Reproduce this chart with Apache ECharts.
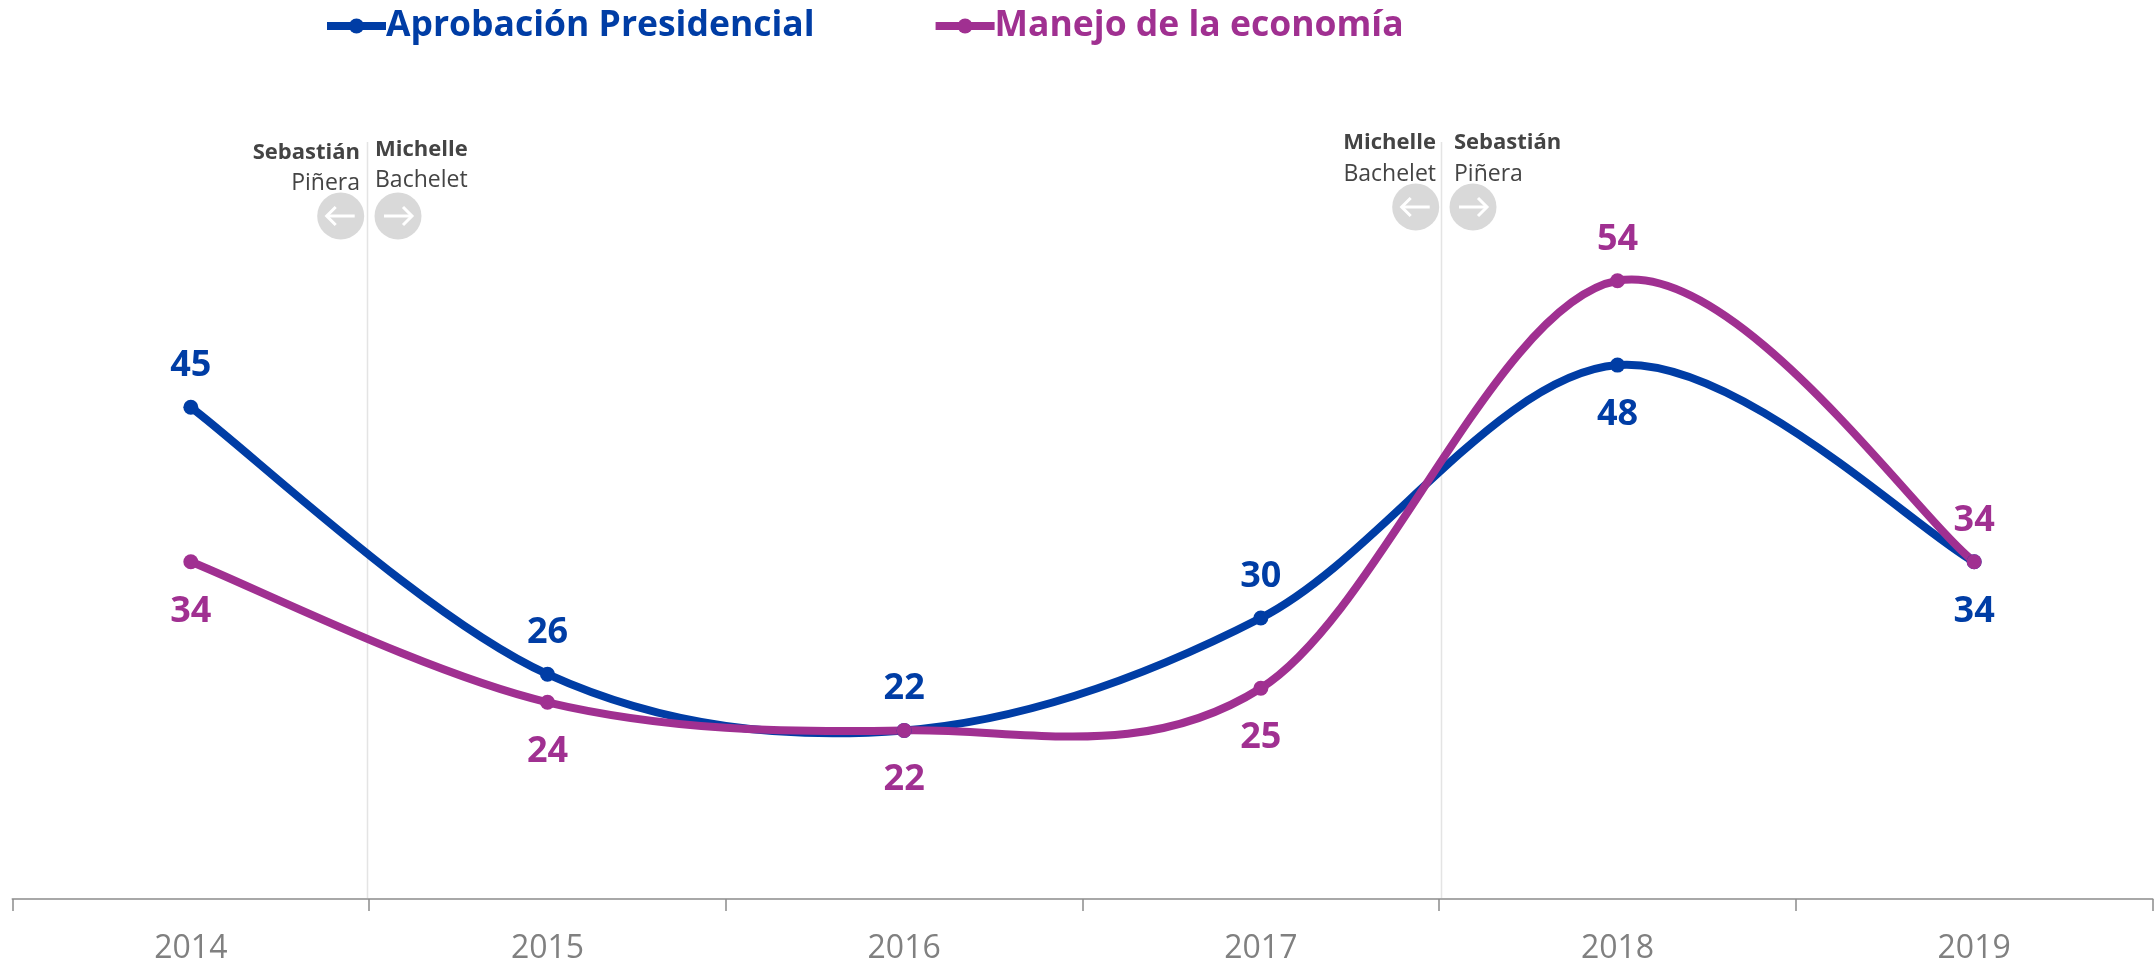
<!DOCTYPE html>
<html><head><meta charset="utf-8">
<style>html,body{margin:0;padding:0;background:#fff}#c{width:2156px;height:965px}</style>
<script src="https://cdn.jsdelivr.net/npm/echarts@6/dist/echarts.min.js"></script>
</head><body><div id="c"></div>
<script>
const years = ['2014','2015','2016','2017','2018','2019'];
const aprobacion = [45,26,22,30,48,34];
const economia = [34,24,22,25,54,34];
const aprobacionLabelPos = ['top','top','top','top','bottom','bottom'];
const economiaLabelPos = ['bottom','bottom','bottom','bottom','top','top'];
const BLUE='#003DA5', PURPLE='#A03091', FONT='"Open Sans", sans-serif';
const chart = echarts.init(document.getElementById('c'),null,{renderer:'canvas'});
function ser(name,vals,pos,color){
  return {name,type:'line',data:vals.map((v,i)=>({value:v,label:{position:pos[i],distance:pos[i]==='top'?16:24}})),
    symbol:'circle',symbolSize:15,z:4,
    lineStyle:{color,width:8,opacity:0},itemStyle:{color},
    label:{show:true,color,fontFamily:FONT,fontWeight:'bold',fontSize:36}};
}
function curve(vals,color,z){
  return {type:'custom',silent:true,z,clip:false,data:vals.map((v,i)=>[i,v]),
    renderItem(params,api){
      const i=params.dataIndex;
      if(i>=vals.length-1) return null;
      const p=k=>api.coord([Math.max(0,Math.min(vals.length-1,k)),vals[Math.max(0,Math.min(vals.length-1,k))]]);
      const a=p(i-1),b=p(i),c=p(i+1),d=p(i+2);
      return {type:'bezierCurve',shape:{x1:b[0],y1:b[1],x2:c[0],y2:c[1],
        cpx1:b[0]+(c[0]-a[0])/6,cpy1:b[1]+(c[1]-a[1])/6,
        cpx2:c[0]-(d[0]-b[0])/6,cpy2:c[1]-(d[1]-b[1])/6},
        style:{stroke:color,lineWidth:8,fill:null}};
    }};
}
function vline(x,y1,y2){return {type:'line',shape:{x1:x,y1,x2:x,y2},style:{stroke:'#e4e4e4',lineWidth:1.5},z:0};}
function txt(x,y,t,align,bold){return {type:'text',x,y,style:{text:t,align,verticalAlign:'middle',fill:'#444',fontFamily:FONT,fontSize:bold?22:23,fontWeight:bold?'bold':'normal'},z:5};}
function arrow(cx,cy,dir){
  const a=14*dir,h=9;
  return [{type:'circle',shape:{cx,cy,r:23.5},style:{fill:'#d9d9d9'},z:4},
   {type:'polyline',shape:{points:[[cx-a,cy],[cx+a,cy]]},style:{stroke:'#fff',lineWidth:3,fill:null},z:5},
   {type:'polyline',shape:{points:[[cx+a-h*dir,cy-h],[cx+a,cy],[cx+a-h*dir,cy+h]]},style:{stroke:'#fff',lineWidth:3,fill:null},z:5}];
}
chart.setOption({
  animation:false,backgroundColor:'#fff',
  legend:{left:318,top:3,itemWidth:59,itemHeight:19,itemGap:117,
    textStyle:{fontFamily:FONT,fontWeight:'bold',fontSize:35.5,padding:[0,0,0,-5]},
    data:[{name:'Aprobación Presidencial',textStyle:{color:BLUE},lineStyle:{color:BLUE,width:8,opacity:1}},
          {name:'Manejo de la economía',textStyle:{color:PURPLE},lineStyle:{color:PURPLE,width:8,opacity:1}}]},
  grid:{left:12.5,right:3.5,top:56,bottom:66,containLabel:false},
  xAxis:{type:'category',data:years,boundaryGap:true,
    axisLine:{lineStyle:{color:'#a8a8a8',width:2}},
    axisTick:{show:true,length:12,lineStyle:{color:'#8c8c8c',width:1.5}},
    axisLabel:{color:'#808080',fontFamily:FONT,fontSize:32,margin:34},splitLine:{show:false}},
  yAxis:{type:'value',min:10,max:70,show:false,splitLine:{show:false}},
  series:[curve(aprobacion,BLUE,2),curve(economia,PURPLE,3),
    ser('Aprobación Presidencial',aprobacion,aprobacionLabelPos,BLUE),ser('Manejo de la economía',economia,economiaLabelPos,PURPLE)],
  graphic:[vline(367.5,142,899),vline(1441.5,142,899),
    txt(360,153,'Sebastián','right',true),txt(360,183,'Piñera','right',false),
    txt(375,150,'Michelle','left',true),txt(375,180,'Bachelet','left',false),
    txt(1436,143,'Michelle','right',true),txt(1436,174,'Bachelet','right',false),
    txt(1454,143,'Sebastián','left',true),txt(1454,174,'Piñera','left',false),
    ...arrow(340.7,216,-1),...arrow(398,216,1),...arrow(1415.7,207,-1),...arrow(1473,207,1)]
});
</script></body></html>
